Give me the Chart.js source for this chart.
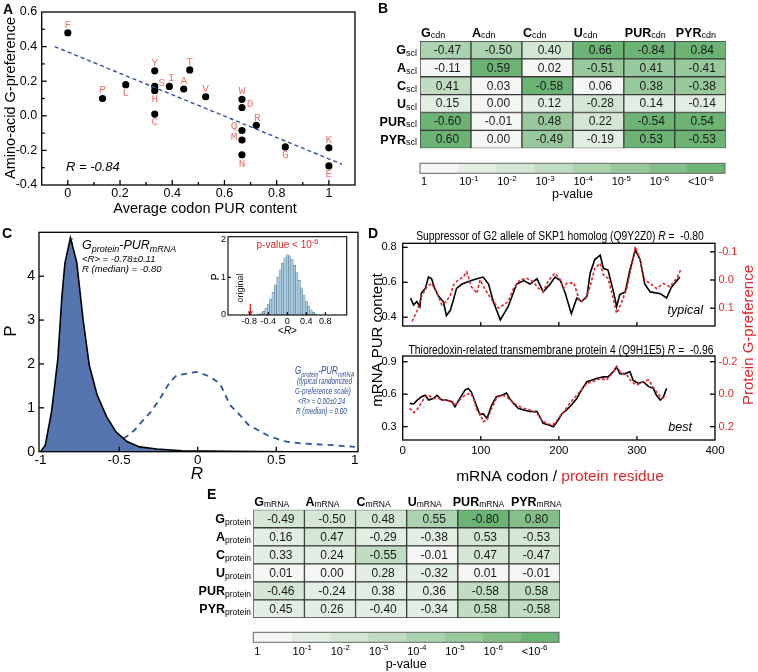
<!DOCTYPE html>
<html><head><meta charset="utf-8">
<script src="https://cdn.jsdelivr.net/npm/chart.js@4/dist/chart.umd.min.js"></script>
<style>
html,body{margin:0;padding:0;background:#fff;}
body{width:758px;height:672px;position:relative;overflow:hidden;}
canvas{position:absolute;left:0;top:0;}
</style></head><body>
<script>
// ================= DATA =================
// Panel A
const aaLetters  = ['F','P','L','Y','S','H','C','I','A','T','V','W','D','Q','M','N','R','G','K','E'];
const aaCodonPUR = [0,0.133,0.222,0.333,0.333,0.333,0.333,0.389,0.444,0.467,0.528,0.667,0.667,0.667,0.667,0.667,0.722,0.833,1,1];
const aaGPref    = [0.48,0.10,0.18,0.26,0.17,0.145,0.01,0.17,0.155,0.265,0.11,0.095,0.048,-0.085,-0.14,-0.225,-0.055,-0.18,-0.185,-0.29];
const fitX = [-0.05, 1.05];
const fitY = [0.40, -0.28];
const rValueA = '-0.84';

// Panel B
const rowNamesB = ['G','A','C','U','PUR','PYR'];
const colNamesB = ['G','A','C','U','PUR','PYR'];
const corrB = [
  [-0.47,-0.50, 0.40, 0.66,-0.84, 0.84],
  [-0.11, 0.59, 0.02,-0.51, 0.41,-0.41],
  [ 0.41, 0.03,-0.58, 0.06, 0.38,-0.38],
  [ 0.15, 0.00, 0.12,-0.28, 0.14,-0.14],
  [-0.60,-0.01, 0.48, 0.22,-0.54, 0.54],
  [ 0.60, 0.00,-0.49,-0.19, 0.53,-0.53]
];
const pLevelB = [
  [4,4,2,7,7,7],
  [0,7,0,5,5,5],
  [3,0,7,0,5,5],
  [1,0,1,2,1,1],
  [7,0,5,2,7,7],
  [7,0,5,1,7,7]
];
// p-value colour bar
const pBins    = ['1','10','10','10','10','10','10','<10'];
const pBinsExp = ['','-1','-2','-3','-4','-5','-6','-6'];

// Panel C
const cRealX = [-1.0,-0.97,-0.93,-0.89,-0.865,-0.845,-0.81,-0.77,-0.73,-0.69,-0.64,-0.58,-0.52,-0.45,-0.37,-0.26,-0.1,0.2,0.6,1.0];
const cRealY = [0.0,0.15,0.91,2.12,3.5,4.3,4.87,4.32,3.03,1.97,1.29,0.80,0.45,0.23,0.11,0.06,0.02,0.01,0.0,0.0];
const cRandX = [-0.95,-0.8,-0.7,-0.6,-0.5,-0.45,-0.4,-0.367,-0.3,-0.24,-0.177,-0.134,-0.07,-0.007,0.078,0.142,0.206,0.27,0.323,0.44,0.545,0.65,0.86,1.0];
const cRandY = [0.0,0.01,0.04,0.1,0.25,0.35,0.5,0.64,0.9,1.21,1.59,1.74,1.78,1.82,1.71,1.55,1.06,0.83,0.61,0.38,0.24,0.19,0.15,0.11];
const cMedianR = -0.80;
const cMedianTop = 4.87;
// inset histogram of <R>
const insetR = [-0.60,-0.55,-0.50,-0.45,-0.40,-0.35,-0.30,-0.25,-0.20,-0.15,-0.10,-0.05,0.00,0.05,0.10,0.15,0.20,0.25,0.30,0.35,0.40,0.45,0.50,0.55,0.60];
const insetP = [0.02,0.05,0.10,0.18,0.29,0.43,0.60,0.80,1.00,1.20,1.38,1.52,1.60,1.57,1.47,1.32,1.13,0.92,0.72,0.53,0.37,0.24,0.14,0.07,0.03];
const originalR = -0.78;
const arrowFromTo = [0.30, 0.06];

// Panel D
const dTopBlackX = [10,14,18,22,24,29,33,37,41,46,52,56,61,65,69,76,88,95,103,110,116,125,135,146,155,163,172,180,189,195,202,208,216,223,229,236,240,246,253,257,263,270,274,278,285,291,298,304,310,317,330,338,344,355];
const dTopBlackY = [0.51,0.47,0.49,0.46,0.54,0.565,0.63,0.62,0.565,0.52,0.49,0.41,0.44,0.50,0.565,0.59,0.61,0.62,0.63,0.59,0.49,0.385,0.46,0.59,0.61,0.59,0.62,0.545,0.59,0.63,0.61,0.54,0.42,0.51,0.49,0.52,0.65,0.73,0.755,0.68,0.67,0.545,0.46,0.53,0.545,0.67,0.785,0.73,0.59,0.545,0.535,0.51,0.57,0.63];
const dTopRedX = [12,18,24,31,37,44,50,56,61,65,71,78,82,88,95,99,105,114,123,129,135,142,150,159,167,174,180,187,195,202,206,210,219,227,234,240,246,253,257,263,270,274,280,287,293,298,304,310,317,325,334,342,351,357];
const dTopRedY = [0.147,0.112,0.059,0.024,0.012,0.047,0.088,0.076,0.053,0.018,0.0,-0.012,-0.029,0.024,0.047,0.0,0.03,0.07,0.1,0.088,0.076,0.03,0.0,-0.006,0.006,0.03,0.04,0.0,-0.024,0.0,0.03,0.012,0.01,0.076,0.07,0.024,-0.041,-0.059,-0.018,-0.006,0.07,0.118,0.082,0.03,-0.047,-0.118,-0.071,0.0,0.012,0.03,0.012,0.024,-0.006,-0.041];
const dBotBlackX = [9,14,18,24,29,33,39,44,50,56,63,67,73,80,84,88,95,99,103,108,114,120,127,133,137,142,148,155,163,172,176,180,187,193,199,204,210,216,223,229,236,242,248,257,263,270,274,278,285,291,295,302,308,315,321,325,330,334,338];
const dBotBlackY = [0.515,0.51,0.54,0.577,0.59,0.546,0.56,0.59,0.546,0.546,0.53,0.485,0.56,0.64,0.654,0.62,0.485,0.41,0.42,0.377,0.5,0.577,0.59,0.61,0.56,0.515,0.47,0.454,0.44,0.44,0.386,0.33,0.315,0.3,0.36,0.42,0.454,0.5,0.56,0.64,0.715,0.73,0.746,0.76,0.76,0.81,0.854,0.79,0.79,0.81,0.73,0.7,0.715,0.67,0.654,0.59,0.546,0.577,0.654];
const dBotRedX = [9,14,18,22,29,33,39,46,52,56,63,67,73,80,86,90,95,99,103,108,114,120,127,133,140,146,155,163,172,178,184,191,195,201,208,214,223,229,236,244,253,261,270,274,280,287,293,300,308,315,319,325,332,338];
const dBotRedY = [0.087,0.114,0.097,0.067,0.015,0.005,0.026,0.026,0.036,0.040,0.046,0.067,0.036,0.005,-0.005,0.015,0.097,0.118,0.169,0.159,0.087,0.026,0.005,0.015,0.046,0.067,0.087,0.097,0.118,0.159,0.179,0.190,0.179,0.138,0.097,0.056,0.005,-0.026,-0.067,-0.077,-0.097,-0.087,-0.138,-0.169,-0.128,-0.118,-0.077,-0.056,-0.077,-0.087,-0.056,-0.015,0.026,0.015];
const dTopTitle = 'Suppressor of G2 allele of SKP1 homolog (Q9Y2Z0) ';
const dTopR = ' =  -0.80';
const dBotTitle = 'Thioredoxin-related transmembrane protein 4 (Q9H1E5) ';
const dBotR = ' =  -0.96';

// Panel E
const rowNamesE = ['G','A','C','U','PUR','PYR'];
const colNamesE = ['G','A','C','U','PUR','PYR'];
const corrE = [
  [-0.49,-0.50, 0.48, 0.55,-0.80, 0.80],
  [ 0.16, 0.47,-0.29,-0.38, 0.53,-0.53],
  [ 0.33, 0.24,-0.55,-0.01, 0.47,-0.47],
  [ 0.01, 0.00, 0.28,-0.32, 0.01,-0.01],
  [-0.46,-0.24, 0.38, 0.36,-0.58, 0.58],
  [ 0.45, 0.26,-0.40,-0.34, 0.58,-0.58]
];
const pLevelE = [
  [2,2,2,4,7,6],
  [1,2,1,1,2,2],
  [1,1,3,0,2,2],
  [0,0,1,1,0,0],
  [2,1,1,1,3,3],
  [1,1,1,1,3,3]
];

// ================= STYLE / LAYOUT =================
const FF = '"Liberation Sans", Arial, Helvetica, sans-serif';
const MONO = '"Liberation Mono", "Courier New", monospace';
const W = 758, H = 672;
const pPalette = ['#f5f7f5','#e4efe4','#d3e7d4','#c0ddc2','#acd3b0','#98c99c','#84bf89','#6cb474'];
const RED = '#e0282c';
const BLUE_TXT = '#2f4f93';

function mkCanvas(){
  const c = document.createElement('canvas');
  c.width = W; c.height = H; c.style.width = W+'px'; c.style.height = H+'px';
  document.body.appendChild(c); return c;
}
// plot rectangle L,T,R,B plus the boxes reserved for axis labels
function area(L,T,R,B,ax){ ax = ax||{}; return {left:L-(ax.l||0), top:T-(ax.t||0), right:W-R-(ax.r||0), bottom:H-B-(ax.b||0)}; }
function baseOpts(a){
  return {responsive:false, animation:false, events:[], devicePixelRatio:1,
    layout:{padding:a},
    plugins:{legend:{display:false}, tooltip:{enabled:false}, title:{display:false}}};
}
function linAxis(pos, min, max, ticks, fmt, size, pad, box, color, extra){
  const vertical = (pos==='left'||pos==='right');
  return Object.assign({
    type:'linear', position:pos, min:min, max:max, display:true,
    grid:{display:false, drawTicks:false}, border:{display:false},
    afterFit: s => { if (vertical) s.width = box; else s.height = box; },
    afterBuildTicks: s => { s.ticks = ticks.map(v => ({value:v})); },
    ticks:{callback: fmt || (() => ''), font:{family:FF, size:size}, padding:pad, color:color||'#000',
           maxRotation:0, minRotation:0, autoSkip:false, display: !!fmt}
  }, extra||{});
}
function fontStr(r){ return (r.i?'italic ':'')+(r.b?'bold ':'')+(r.s||12)+'px '+(r.f||FF); }
function drawRich(ctx, it){
  ctx.save();
  ctx.translate(it.x, it.y);
  if (it.rot) ctx.rotate(it.rot);
  if (it.sx) ctx.scale(it.sx, 1);
  ctx.textBaseline = 'alphabetic'; ctx.textAlign = 'left';
  const runs = it.runs.map(r => Object.assign({i:it.i, b:it.b, s:it.s, f:it.f, c:it.c}, r));
  let w = 0;
  const ms = runs.map(r => { ctx.font = fontStr(r); const m = ctx.measureText(r.t).width; w += m; return m; });
  let cx = it.align==='center' ? -w/2 : (it.align==='right' ? -w : 0);
  runs.forEach((r,k) => { ctx.font = fontStr(r); ctx.fillStyle = r.c || '#000'; ctx.fillText(r.t, cx, r.dy||0); cx += ms[k]; });
  ctx.restore();
}
function T(x, y, runs, o){ return Object.assign({x:x, y:y, runs: (typeof runs==='string') ? [{t:runs}] : runs}, o||{}); }
function textPlugin(items){ return {id:'txt', afterDraw(chart){ items.forEach(it => drawRich(chart.ctx, it)); }}; }
function framePlugin(cfg){
  return {id:'frm', afterDraw(chart){
    const ctx = chart.ctx, a = chart.chartArea;
    ctx.save(); ctx.strokeStyle = cfg.color||'#000'; ctx.lineWidth = cfg.lw||1.2;
    if (cfg.frame) ctx.strokeRect(a.left, a.top, a.right-a.left, a.bottom-a.top);
    (cfg.marks||[]).forEach(m => {
      const s = chart.scales[m.scale];
      ctx.strokeStyle = m.color || cfg.color || '#000';
      m.values.forEach(v => {
        const p = s.getPixelForValue(v);
        ctx.beginPath();
        if (m.side==='bottom'){ ctx.moveTo(p, a.bottom); ctx.lineTo(p, a.bottom - m.len); }
        else if (m.side==='left'){ ctx.moveTo(a.left, p); ctx.lineTo(a.left + m.len, p); }
        else if (m.side==='right'){ ctx.moveTo(a.right, p); ctx.lineTo(a.right - m.len, p); }
        ctx.stroke();
      });
    });
    ctx.restore();
  }};
}
const pts = (xs, ys) => xs.map((x,i) => ({x:x, y:ys[i]}));
function textOnly(items){
  new Chart(mkCanvas(), {type:'scatter', data:{datasets:[]},
    options:Object.assign(baseOpts(area(0,0,W,H)),{scales:{x:{display:false},y:{display:false}}}),
    plugins:[textPlugin(items)]});
}

// ================= PANEL A =================
(function(){
  const labelOff = {F:[0,-8],P:[0,-8],L:[0,8],Y:[0,-8],S:[7,-3],H:[0,8],C:[0,8],I:[2,-8],A:[0,-8],T:[0,-8],
                    V:[0,-8],W:[0,-8],D:[8,-3],Q:[-8,-4],M:[-8,-3],N:[0,9],R:[1,-7],G:[0,8],K:[0,-8],E:[0,8]};
  const aaLabels = {id:'aalab', afterDatasetsDraw(chart){
    const ctx = chart.ctx, meta = chart.getDatasetMeta(1);
    ctx.save(); ctx.font = '11px '+MONO; ctx.fillStyle = '#ee7266'; ctx.textAlign='center'; ctx.textBaseline='middle';
    meta.data.forEach((el,i) => { const o = labelOff[aaLetters[i]]; ctx.fillText(aaLetters[i], el.x+o[0], el.y+o[1]); });
    ctx.restore();
  }};
  const o = baseOpts(area(41.7, 11.7, 355, 185, {l:40, b:30}));
  o.scales = {
    x: linAxis('bottom', -0.1, 1.1, [0,0.2,0.4,0.6,0.8,1], v => String(+v.toFixed(1)), 12.5, 1, 30),
    y: linAxis('left', -0.4, 0.6, [-0.4,-0.2,0,0.2,0.4,0.6], v => v.toFixed(1), 12.5, 4.5, 40)
  };
  new Chart(mkCanvas(), {
    type:'scatter',
    data:{datasets:[
      {data: pts(fitX, fitY), showLine:true, borderColor:'#2f5597', borderWidth:1.4, borderDash:[4,3], pointRadius:0},
      {data: pts(aaCodonPUR, aaGPref), backgroundColor:'#000', borderWidth:0, pointRadius:3.6}
    ]},
    options:o,
    plugins:[aaLabels,
      framePlugin({frame:true, lw:1.3, marks:[
        {scale:'x', side:'bottom', len:5, values:[0,0.2,0.4,0.6,0.8,1]},
        {scale:'x', side:'bottom', len:3, values:[0.1,0.3,0.5,0.7,0.9]},
        {scale:'y', side:'left', len:5, values:[-0.2,0,0.2,0.4]},
        {scale:'y', side:'left', len:3, values:[-0.3,-0.1,0.1,0.3,0.5]}]}),
      textPlugin([
        T(3, 14, [{t:'A', b:1, s:14}]),
        T(15, 98, 'Amino-acid G-preference', {s:14.5, rot:-Math.PI/2, align:'center'}),
        T(205, 213, 'Average codon PUR content', {s:14.5, align:'center'}),
        T(66, 171, [{t:'R', i:1},{t:' = '+rValueA, i:1}], {s:13})
      ])]
  });
})();

// ================= TABLE helper (B, E) =================
function heatTable(a, rowNames, colNames, corr, levels, rowSub, colSub, hdrY, rowLabelX, subSize, hdrShift){
  const datasets = colNames.map((c,j) => ({
    data: rowNames.map(() => [j, j+1]),
    backgroundColor: levels.map(r => pPalette[r[j]]),
    borderColor:'#3a3a3a', borderWidth:1, borderSkipped:false,
    grouped:false, barPercentage:1, categoryPercentage:1
  }));
  const o = baseOpts(a);
  o.indexAxis = 'y';
  o.scales = {
    x:{type:'linear', min:0, max:colNames.length, display:false},
    y:{type:'category', display:false}
  };
  const labelsPlugin = {id:'tbl', afterDraw(chart){
    const ctx = chart.ctx, xs = chart.scales.x, ys = chart.scales.y;
    ctx.save(); ctx.font = '12px '+FF; ctx.fillStyle = '#1a1a1a'; ctx.textAlign='center'; ctx.textBaseline='middle';
    chart.data.datasets.forEach((ds,j) => chart.getDatasetMeta(j).data.forEach((el,i) => {
      const c = el.getCenterPoint(); ctx.fillText(corr[i][j].toFixed(2), c.x+2, c.y+0.5);
    }));
    ctx.restore();
    colNames.forEach((n,j) => drawRich(ctx, T(xs.getPixelForValue(j)+1+(hdrShift[j]||0), hdrY, [{t:n, b:1, s:12.5},{t:colSub, s:subSize, dy:1.5}])));
    rowNames.forEach((n,i) => drawRich(ctx, T(rowLabelX, ys.getPixelForValue(i)+4.5, [{t:n, b:1, s:12.5},{t:rowSub, s:subSize, dy:1.5}], {align:'right'})));
  }};
  new Chart(mkCanvas(), {type:'bar', data:{labels: rowNames, datasets: datasets}, options:o, plugins:[labelsPlugin]});
}
function pBar(a, lblY, titleY){
  const datasets = pPalette.map((col,i) => ({data:[[i, i+1]], backgroundColor:col, borderWidth:0,
    grouped:false, barPercentage:1, categoryPercentage:1}));
  const o = baseOpts(a);
  o.indexAxis = 'y';
  o.scales = {x:{type:'linear', min:0, max:pPalette.length, display:false}, y:{type:'category', display:false}};
  const lbl = {id:'pbl', afterDraw(chart){
    const ctx = chart.ctx, xs = chart.scales.x, ar = chart.chartArea;
    ctx.save(); ctx.strokeStyle = '#666'; ctx.lineWidth = 1; ctx.strokeRect(ar.left, ar.top, ar.right-ar.left, ar.bottom-ar.top); ctx.restore();
    pBins.forEach((b,i) => drawRich(ctx, T(xs.getPixelForValue(i)+1, lblY, [{t:b},{t:pBinsExp[i], s:8, dy:-4.5}], {s:11})));
    drawRich(ctx, T((ar.left+ar.right)/2, titleY, 'p-value', {s:12.5, align:'center'}));
  }};
  new Chart(mkCanvas(), {type:'bar', data:{labels:[''], datasets:datasets}, options:o, plugins:[lbl]});
}

// ================= PANEL B =================
heatTable(area(420, 41, 725.7, 148.3), rowNamesB, colNamesB, corrB, pLevelB, 'scl', 'cdn', 36.5, 417, 9, [0,0,0,0,0,0]);
pBar(area(420, 163.3, 725, 173.3), 185, 198);

// ================= PANEL C =================
(function(){
  const o = baseOpts(area(39, 232.3, 358, 451.7, {l:36, b:25}));
  o.scales = {
    x: linAxis('bottom', -1.01, 1.02, [-1,-0.5,0,0.5,1], v => String(v), 13.5, 0, 25),
    y: linAxis('left', 0, 5, [0,1,2,3,4], v => String(v), 14, 4, 36)
  };
  new Chart(mkCanvas(), {
    type:'scatter',
    data:{datasets:[
      {data: pts(cRealX, cRealY), showLine:true, fill:'origin', backgroundColor:'#5675b0', borderColor:'#000', borderWidth:1.6, pointRadius:0},
      {data: pts(cRandX, cRandY), showLine:true, borderColor:'#2c5496', borderWidth:1.8, borderDash:[6,5], pointRadius:0},
      {data: [{x:cMedianR, y:0},{x:cMedianR, y:cMedianTop}], showLine:true, borderColor:'#1f2a3a', borderWidth:1, borderDash:[2,2], pointRadius:0}
    ]},
    options:o,
    plugins:[framePlugin({frame:true, lw:1.3, marks:[
        {scale:'x', side:'bottom', len:5, values:[-0.5,0,0.5]},
        {scale:'y', side:'left', len:5, values:[1,2,3,4]}]}),
      textPlugin([
        T(2, 238, [{t:'C', b:1, s:14}]),
        T(16, 331, 'P', {s:17, rot:-Math.PI/2, align:'center'}),
        T(197, 479, 'R', {s:17, i:1, align:'center'}),
        T(82, 249, [{t:'G'},{t:'protein', s:9, dy:3},{t:'-PUR'},{t:'mRNA', s:9, dy:3}], {s:12.5, i:1}),
        T(82, 261.5, [{t:'<R> = -0.78\u00b10.11'}], {s:9.5, i:1}),
        T(82, 272, [{t:'R (median) = -0.80'}], {s:9.5, i:1}),
        T(295, 374, [{t:'G'},{t:'protein', s:7, dy:2.5},{t:'-PUR'},{t:'mRNA', s:7, dy:2.5}], {s:10, i:1, c:BLUE_TXT, sx:0.8}),
        T(297, 384, '(typical randomized', {s:8.8, i:1, c:BLUE_TXT, sx:0.72}),
        T(295, 394, 'G-preference scale)', {s:8.8, i:1, c:BLUE_TXT, sx:0.72}),
        T(298, 404, '<R> = 0.00\u00b10.24', {s:8.8, i:1, c:BLUE_TXT, sx:0.72}),
        T(296, 414, 'R (median) = 0.00', {s:8.8, i:1, c:BLUE_TXT, sx:0.72})
      ])]
  });
  // inset
  const oi = baseOpts(area(228, 236.7, 346.7, 315, {l:16, b:14}));
  oi.scales = {
    x: linAxis('bottom', -1, 1, [-0.8,-0.4,0,0.4,0.8], v => String(v), 9, 1.5, 14),
    y: linAxis('left', 0, 2.08, [0,1,2], v => String(v), 9, 2, 16)
  };
  new Chart(mkCanvas(), {
    type:'bar',
    data:{datasets:[
      {type:'bar', data: pts(insetR, insetP), backgroundColor:'#a9cbdf', borderColor:'#55788a', borderWidth:0.5, barPercentage:1, categoryPercentage:1},
      {type:'scatter', data:[{x:originalR, y:arrowFromTo[0]},{x:originalR, y:arrowFromTo[1]}], showLine:true, borderColor:RED, borderWidth:1.3,
       pointRadius:[0,3], pointStyle:'triangle', rotation:180, backgroundColor:RED, pointBorderWidth:0}
    ]},
    options:oi,
    plugins:[framePlugin({frame:true, lw:1.1, marks:[
        {scale:'x', side:'bottom', len:3, values:[-0.8,-0.4,0,0.4,0.8]},
        {scale:'y', side:'left', len:3, values:[1]}]}),
      textPlugin([
        T(287.5, 247.5, [{t:'p-value < 10'},{t:'-6', s:7.5, dy:-4}], {s:10, c:RED, align:'center'}),
        T(219, 277, 'P', {s:10, rot:-Math.PI/2, align:'center'}),
        T(242.5, 288, 'original', {s:9, rot:-Math.PI/2, align:'center', c:'#222'}),
        T(287.5, 334, [{t:'<'},{t:'R', i:1},{t:'>'}], {s:10, align:'center'})
      ])]
  });
})();

// ================= PANEL D =================
function dChart(a, blackX, blackY, redX, redY, yMin, yMax, yTicks, y2Min, y2Max, y2Ticks, showX){
  const o = baseOpts(a);
  o.scales = {
    x: linAxis('bottom', 0, 400, [0,100,200,300,400], showX ? (v => String(v)) : null, 11.5, 3.5, showX ? 18 : 0),
    y: linAxis('left', yMin, yMax, yTicks, v => v.toFixed(1), 11, 6, 22),
    y2: linAxis('right', y2Min, y2Max, y2Ticks, v => v.toFixed(1), 11, 3.5, 25, RED, {reverse:true})
  };
  return new Chart(mkCanvas(), {
    type:'scatter',
    data:{datasets:[
      {data: pts(redX, redY), yAxisID:'y2', showLine:true, borderColor:RED, borderWidth:1.6, borderDash:[3,2], pointRadius:0},
      {data: pts(blackX, blackY), yAxisID:'y', showLine:true, borderColor:'#000', borderWidth:1.6, pointRadius:0}
    ]},
    options:o,
    plugins:[framePlugin({frame:true, lw:1.3, marks:[
      {scale:'x', side:'bottom', len:4, values:[100,200,300]},
      {scale:'y', side:'left', len:5, values:yTicks},
      {scale:'y2', side:'right', len:5, values:y2Ticks}]})]
  });
}
dChart(area(402.7, 243.3, 715, 326, {l:22, r:25}), dTopBlackX, dTopBlackY, dTopRedX, dTopRedY, 0.35, 0.823, [0.4,0.6,0.8], -0.13, 0.163, [-0.1,0,0.1], false);
dChart(area(402.7, 356, 715, 440, {l:22, r:25, b:18}), dBotBlackX, dBotBlackY, dBotRedX, dBotRedY, 0.177, 0.953, [0.3,0.6,0.9], -0.235, 0.282, [-0.2,0,0.2], true);

// ================= PANEL E =================
heatTable(area(253.3, 509.7, 560, 618), rowNamesE, colNamesE, corrE, pLevelE, 'protein', 'mRNA', 505.5, 251, 8.5, [0,0,0,0,-6,1]);
pBar(area(253.3, 632.3, 559, 642.3), 654.5, 667.5);

// ================= free texts (panel letters, D labels) =================
textOnly([
  T(378, 13, [{t:'B', b:1, s:14}]),
  T(368, 238, [{t:'D', b:1, s:14}]),
  T(560, 240, [{t:dTopTitle},{t:'R', i:1},{t:dTopR}], {s:12, sx:0.86, align:'center'}),
  T(561, 354, [{t:dBotTitle},{t:'R', i:1},{t:dBotR}], {s:12, sx:0.86, align:'center'}),
  T(703, 314, 'typical', {s:12.5, i:1, align:'right'}),
  T(692, 431, 'best', {s:12.5, i:1, align:'right'}),
  T(382, 340, 'mRNA PUR content', {s:15, rot:-Math.PI/2, align:'center'}),
  T(753, 335, 'Protein G-preference', {s:15, rot:-Math.PI/2, align:'center', c:RED}),
  T(560, 481, [{t:'mRNA codon / '},{t:'protein residue', c:RED}], {s:15.5, align:'center'}),
  T(207, 499, [{t:'E', b:1, s:14}])
]);
</script>
</body></html>
